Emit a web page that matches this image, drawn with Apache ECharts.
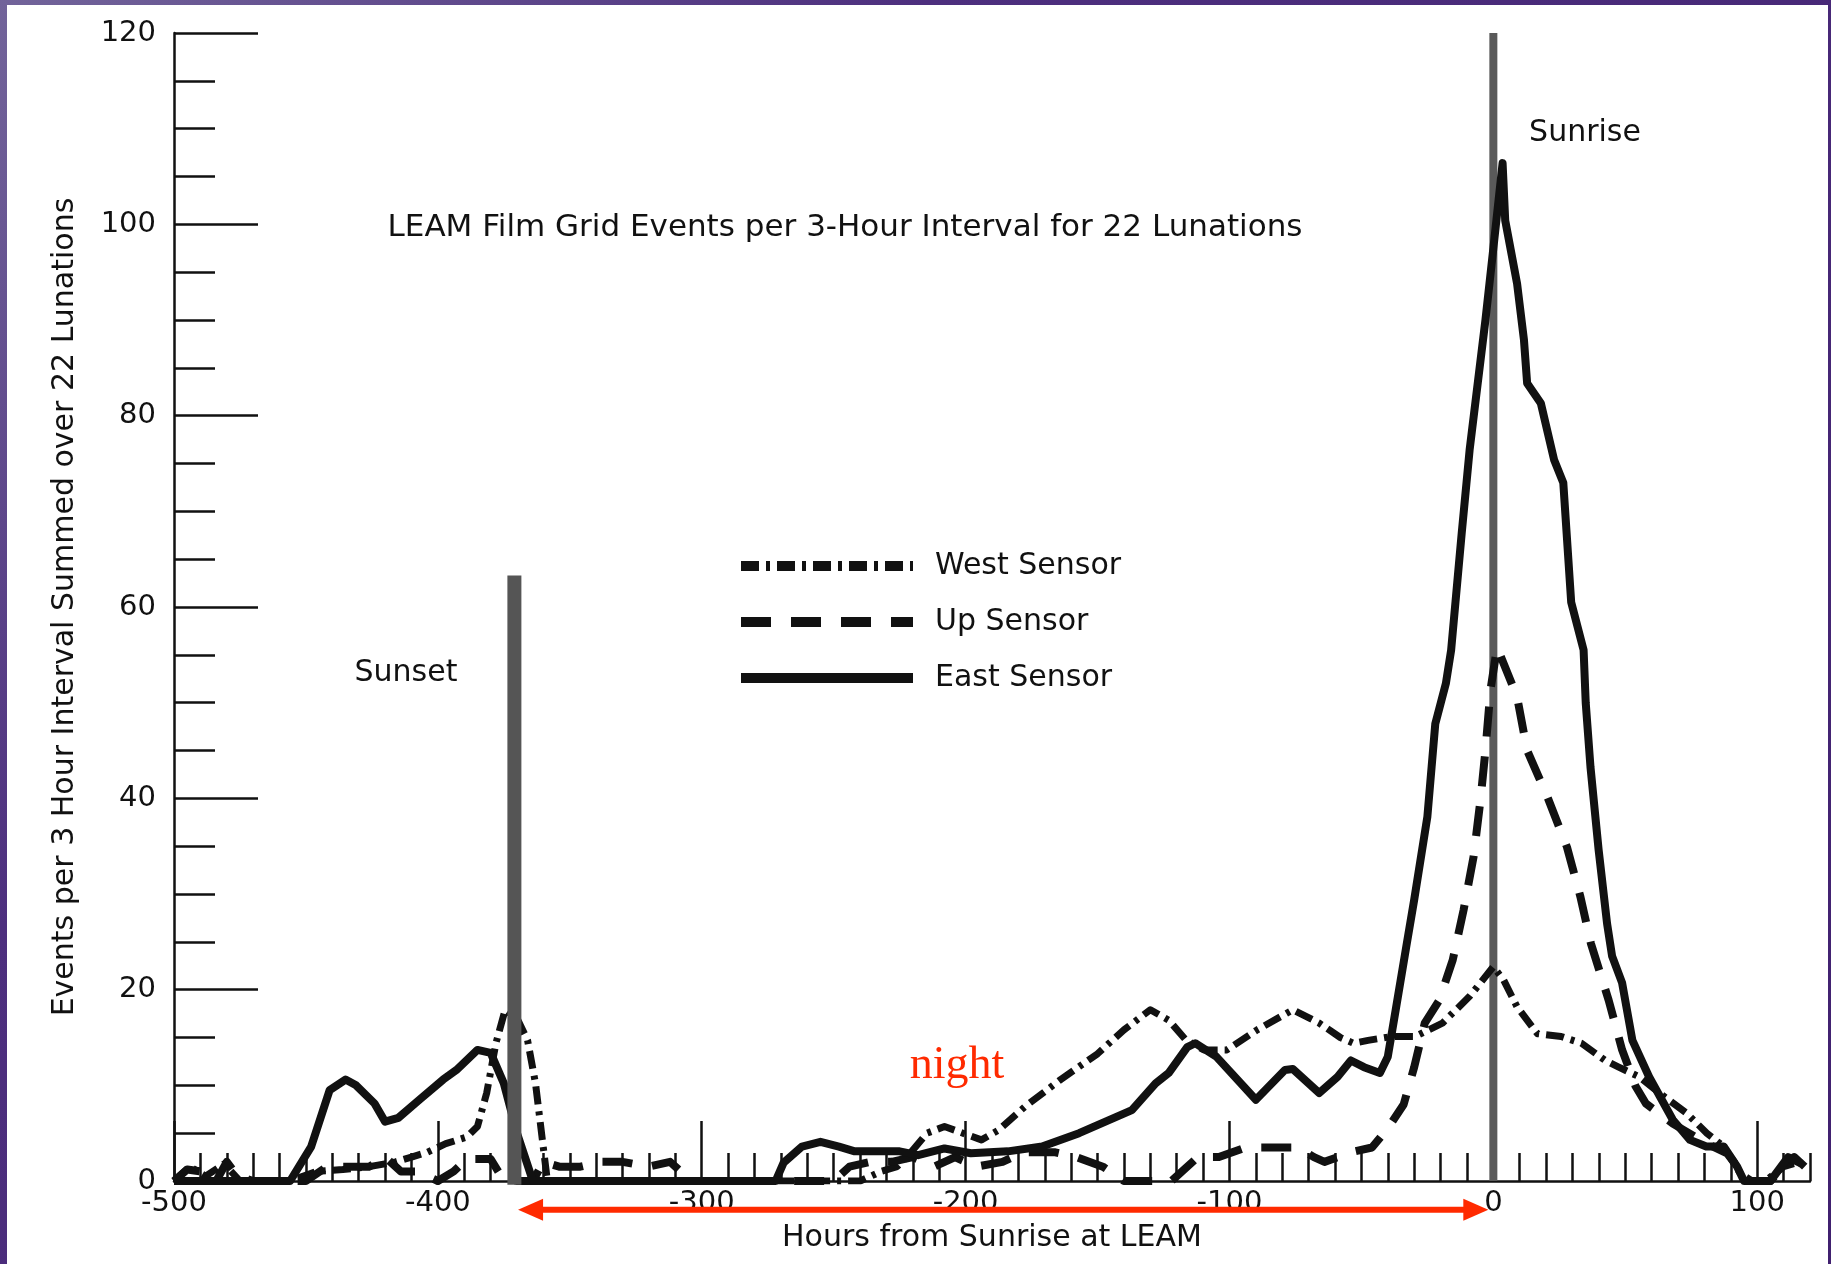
<!DOCTYPE html>
<html>
<head>
<meta charset="utf-8">
<title>LEAM Film Grid Events</title>
<script src="https://cdn.jsdelivr.net/npm/echarts@6/dist/echarts.min.js"></script>
<style>
  html, body { margin: 0; padding: 0; width: 1831px; height: 1264px; overflow: hidden;
    background: linear-gradient(135deg, #72649a 0%, #4d2f7e 30%, #40206f 100%); }
  #chart { position: absolute; left: 7px; top: 5px; width: 1821px; height: 1259px; background: #fff; }
</style>
</head>
<body>
<div id="chart"></div>
<script>
// Axis tick values
const hourTicks = [-500, -400, -300, -200, -100, 0, 100];
const countTicks = [0, 20, 40, 60, 80, 100, 120];

// Sensor series: [hours from sunrise, events per 3-hour interval]
const sensorNames = ['West Sensor', 'Up Sensor', 'East Sensor'];

const westSensor = [
  [-500, 0], [-494, 1.5], [-488, 0.5], [-481, 1.8], [-475, 0], [-456, 0], [-446, 1], [-436, 1.2],
  [-426, 1.5], [-416, 2], [-410, 2.5], [-404, 3], [-397, 3.9], [-389, 4.6], [-385, 5.7],
  [-381.5, 9.2], [-378, 14.4], [-374.5, 17.9], [-370, 17], [-366, 14.7], [-363, 10.2],
  [-360.4, 4.3], [-358.5, 0], [-300, 0], [-240, 0], [-232, 1], [-226, 1.5], [-221, 2.9],
  [-214.6, 5.0], [-208, 5.7], [-201, 5.0], [-194, 4.3], [-187.6, 5.3], [-177.4, 7.8],
  [-164, 10.6], [-150, 13.3], [-140, 15.8], [-130, 17.9], [-123, 16.8], [-116.4, 14.7],
  [-109.7, 13.7], [-101, 13.7], [-89.5, 15.8], [-76, 17.9], [-66, 16.5], [-58, 15],
  [-53, 14.4], [-47.5, 14.7], [-38.5, 15.1], [-29.6, 15.1], [-19.3, 16.5], [-9, 19.3],
  [0, 22.4], [3.9, 21], [9, 18.2], [16.7, 15.4], [25.7, 15.1], [33.4, 14.4], [42.4, 12.6],
  [47.5, 11.9], [55.2, 10.9], [62.9, 9.2], [73.2, 7.1], [80.9, 5.0], [87.3, 3.6], [93.6, 0.8],
  [98, 0], [103, 0], [110, 1.5], [116, 2]
];

const upSensor = [
  [-500, 0], [-495, 1.2], [-490, 1], [-484, 0], [-480, 2], [-476, 0.5], [-470, 0], [-450, 0],
  [-442, 1.5], [-434, 1.5], [-426, 1.5], [-420, 2.5], [-414, 1], [-408, 1], [-400, 0],
  [-394, 1], [-389, 2.3], [-380, 2.3], [-376, 0.5], [-370, 0], [-364, 0], [-360, 2],
  [-354, 1.5], [-346, 1.5], [-338, 2], [-330, 2], [-320, 1.5], [-312, 2], [-304, 0],
  [-250, 0], [-244, 1.5], [-236, 2], [-228, 2], [-220, 2.5], [-212, 1.5], [-204, 2.5],
  [-196, 1.5], [-186, 2], [-178, 3], [-166, 3], [-158, 2.5], [-148, 1.5], [-140, 0],
  [-122, 0], [-112, 2.5], [-104, 2.5], [-94, 3.5], [-86, 3.5], [-74, 3.5], [-68, 2.5],
  [-64, 2], [-54, 3], [-46, 3.5], [-40, 5.5], [-34, 8], [-30, 11.9], [-26, 16.5],
  [-20.5, 18.9], [-15.4, 23.1], [-11.3, 28.3], [-7.5, 33.9], [-4.9, 39.8], [-3, 45],
  [-1.1, 51.3], [1.4, 55.8], [9, 50.6], [12.8, 45], [20.4, 40.2], [27.9, 34.9], [33, 29.7],
  [37, 24.8], [43.7, 18.9], [48.8, 13.7], [53.9, 9.9], [57.8, 8.1], [68, 6.0], [80.9, 3.9],
  [88.6, 2.9], [92.4, 1.5], [97, 0], [105, 0], [110, 1.5], [114, 2.5], [118, 1.5]
];

const eastSensor = [
  [-500, 0], [-456, 0], [-448, 3.6], [-441, 9.5], [-435, 10.6], [-431, 10.0], [-424, 8.1],
  [-420, 6.2], [-415, 6.6], [-407, 8.5], [-398, 10.6], [-393, 11.6], [-385, 13.7],
  [-380, 13.4], [-375, 10.2], [-370, 5.0], [-364, 0], [-272, 0], [-269, 1.9], [-262, 3.6],
  [-255, 4.1], [-248, 3.6], [-242, 3.1], [-225, 3.1], [-218, 2.7], [-208, 3.4], [-198, 2.9],
  [-184, 3.1], [-171, 3.6], [-157, 5.0], [-137, 7.4], [-128, 10.2], [-123, 11.3],
  [-116, 14.0], [-113, 14.4], [-105, 13.0], [-90, 8.5], [-79, 11.6], [-76, 11.7], [-66, 9.2],
  [-59, 10.9], [-54, 12.6], [-49, 11.9], [-43, 11.3], [-40, 13.0], [-37, 17.9], [-33, 24.5],
  [-30, 29.4], [-25, 38.1], [-22, 47.8], [-18, 52.0], [-16, 55.5], [-12, 67.7], [-9, 76.4],
  [-3, 90.0], [0, 97.5], [3.5, 106.4], [4.5, 100.4], [9, 93.8], [11.6, 87.9], [12.8, 83.4],
  [18, 81.3], [23, 75.4], [26.5, 73], [29.5, 60.5], [34.2, 55.5], [35, 50], [36.8, 43.3],
  [39.9, 34.6], [43.1, 26.9], [45, 23.5], [48.8, 20.7], [52.7, 14.7], [59, 10.9], [68, 6.4],
  [74.5, 4.3], [80.7, 3.6], [87.3, 3.6], [92.4, 1.5], [95, 0], [105, 0], [111.7, 2.5],
  [116.8, 1.8]
];

// Reference markers (hours) and the night span arrow
const sunsetHour = -371;
const sunsetBarTop = 63.3;
const sunriseHour = 0;
const sunriseLineTop = 120;
const nightSpan = [-369.6, -1.9];
const nightArrowLevel = -3;

const FONT = '"DejaVu Sans", "Liberation Sans", sans-serif';
const INK = '#111';
const RED = '#ff2a00';

const chart = echarts.init(document.getElementById('chart'), null, { renderer: 'canvas' });

const option = {
  animation: false,
  backgroundColor: '#fff',
  textStyle: { fontFamily: FONT },
  grid: { left: 167, right: 18, top: 28, bottom: 83, containLabel: false },
  legend: {
    orient: 'vertical',
    left: 729, top: 546, padding: 0,
    itemWidth: 172, itemHeight: 30, itemGap: 26,
    selectedMode: false,
    data: sensorNames,
    itemStyle: { opacity: 0 },
    lineStyle: { width: 10 },
    textStyle: { fontFamily: FONT, fontSize: 30, color: INK, padding: [0, 0, 0, 17] }
  },
  xAxis: [
    {
      type: 'value', position: 'bottom', min: -500, max: 120,
      axisLine: { show: true, onZero: false, lineStyle: { color: INK, width: 2.5 } },
      axisTick: { show: true, inside: true, length: 60, customValues: hourTicks,
                  lineStyle: { color: INK, width: 2.5 } },
      axisLabel: { show: true, customValues: hourTicks, margin: 8,
                   fontFamily: FONT, fontSize: 29, color: INK },
      splitLine: { show: false },
      name: 'Hours from Sunrise at LEAM', nameLocation: 'middle', nameGap: 41,
      nameTextStyle: { fontFamily: FONT, fontSize: 30, color: INK }
    },
    {
      type: 'value', position: 'bottom', min: -500, max: 120, interval: 10,
      axisLine: { show: false },
      axisTick: { show: true, inside: true, length: 28, lineStyle: { color: INK, width: 2.5 } },
      axisLabel: { show: false },
      splitLine: { show: false }
    }
  ],
  yAxis: {
    type: 'value', min: 0, max: 120, interval: 20,
    axisLine: { show: true, onZero: false, lineStyle: { color: INK, width: 2.5 } },
    axisTick: { show: true, inside: true, length: 84, lineStyle: { color: INK, width: 2.5 } },
    minorTick: { show: true, splitNumber: 4, length: 41, lineStyle: { color: INK, width: 2.5 } },
    axisLabel: { margin: 18, fontFamily: FONT, fontSize: 29, color: INK },
    splitLine: { show: false },
    minorSplitLine: { show: false },
    name: 'Events per 3 Hour Interval Summed over 22 Lunations',
    nameLocation: 'middle', nameGap: 94,
    nameTextStyle: { fontFamily: FONT, fontSize: 30, color: INK }
  },
  series: [
    {
      name: 'Sunrise', type: 'line', silent: true, z: 1, clip: false,
      data: [[sunriseHour, 0], [sunriseHour, sunriseLineTop]],
      symbol: 'none', lineStyle: { color: '#5a5a5a', width: 8 }
    },
    {
      name: 'West Sensor', type: 'line', z: 2, symbol: 'none', data: westSensor,
      lineStyle: { color: INK, width: 7, type: [18, 7, 4, 7], cap: 'butt', join: 'round' }
    },
    {
      name: 'Up Sensor', type: 'line', z: 2, symbol: 'none', data: upSensor,
      lineStyle: { color: INK, width: 8, type: [30, 20], cap: 'butt', join: 'round' }
    },
    {
      name: 'East Sensor', type: 'line', z: 2, symbol: 'none', data: eastSensor,
      lineStyle: { color: INK, width: 8, join: 'round' }
    },
    {
      name: 'Sunset', type: 'line', silent: true, z: 4, clip: false,
      data: [[sunsetHour, -0.4], [sunsetHour, sunsetBarTop]],
      symbol: 'none', lineStyle: { color: '#555', width: 14 }
    },
    {
      name: 'Night span', type: 'custom', silent: true, z: 5, clip: false,
      data: [[nightSpan[0], nightSpan[1], nightArrowLevel]],
      encode: { x: [0, 1], y: 2 },
      renderItem: function (params, api) {
        const a = api.coord([api.value(0), api.value(2)]);
        const b = api.coord([api.value(1), api.value(2)]);
        const head = 25, half = 11;
        return {
          type: 'group',
          children: [
            { type: 'line', shape: { x1: a[0] + head - 2, y1: a[1], x2: b[0] - head + 2, y2: b[1] },
              style: { stroke: RED, lineWidth: 6 } },
            { type: 'polygon', shape: { points: [[a[0], a[1]], [a[0] + head, a[1] - half], [a[0] + head, a[1] + half]] },
              style: { fill: RED } },
            { type: 'polygon', shape: { points: [[b[0], b[1]], [b[0] - head, b[1] - half], [b[0] - head, b[1] + half]] },
              style: { fill: RED } }
          ]
        };
      }
    }
  ],
  graphic: [
    { type: 'text', x: 838, y: 223, z: 10, silent: true,
      style: { text: 'LEAM Film Grid Events per 3-Hour Interval for 22 Lunations',
               font: '31px ' + FONT, fill: INK, align: 'center', verticalAlign: 'middle' } },
    { type: 'text', x: 399, y: 668, z: 10, silent: true,
      style: { text: 'Sunset', font: '30px ' + FONT, fill: INK, align: 'center', verticalAlign: 'middle' } },
    { type: 'text', x: 1578, y: 128, z: 10, silent: true,
      style: { text: 'Sunrise', font: '30px ' + FONT, fill: INK, align: 'center', verticalAlign: 'middle' } },
    { type: 'text', x: 950, y: 1061, z: 10, silent: true,
      style: { text: 'night', font: '46px "Liberation Serif", serif', fill: RED, align: 'center', verticalAlign: 'middle' } }
  ]
};

chart.setOption(option);
</script>
</body>
</html>
